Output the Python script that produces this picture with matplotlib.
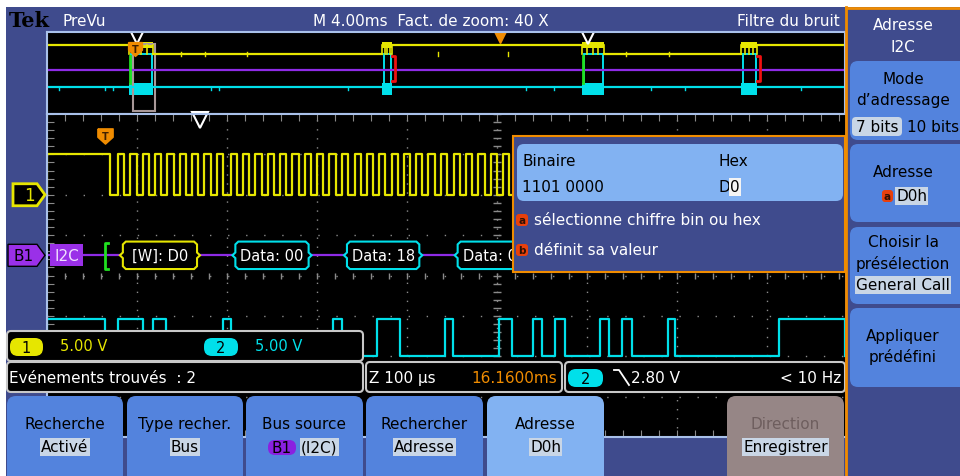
import numpy as np
import matplotlib.pyplot as plt
from matplotlib.patches import Rectangle, FancyBboxPatch, Polygon
from matplotlib.transforms import Bbox, TransformedBbox

OUT_FILE = 'out.png'
FIG_W, FIG_H = 960, 477

# screen colours
FRAME_BLUE = '#3f4b8d'
BUTTON_BLUE = '#5383dd'
BUTTON_LIGHT = '#82b2f2'
BUTTON_GREY = '#968686'
HILITE = '#c9d6e6'
BORDER_BLUE = '#a9c1ea'
GRID = '#8a8a8a'
CH1 = '#e6e600'
CH2 = '#00e0ea'
BUS = '#8e2be6'
ORANGE = '#f08c00'
READOUT_EDGE = '#c8c8c8'

# PreVu overview, whole record (ms)
PREVU_SPAN_MS = 40.0
BURST_START_MS = [4.1, 16.8, 26.8, 34.8]
BURST_END_MS = [5.3, 17.3, 27.9, 35.6]
BURST_MARK = ['start', 'stop', 'start', 'stop']
CH1_IDLE_LEVEL = [1, 0, 1, 0, 1]
CH1_GLITCH_MS = [6.7, 7.9, 10.0, 19.6, 23.1, 29.0, 31.2]
CH2_GLITCH_MS = [0.6, 2.9, 3.3, 8.2, 8.6, 15.1, 24.0, 25.4, 30.3, 32.0, 37.8]
ZOOM_BOX_MS = (4.3, 5.4)
PREVU_MARKS_MS = [4.5, 27.1]
EXPANSION_MS = 22.7
PREVU_TRIGGER_MS = 4.4

# zoomed window (us from left edge)
ZOOM_SPAN_US = 886.7
VOLTS_PER_DIV = 5.0
CH1_POS_DIV = 2.0
CH2_POS_DIV = -2.0
BUS_POS_DIV = 0.5
CH1_HIGH_V = 5.0
CH2_HIGH_V = 4.6
SCL_IDLE_END_US = 70
SCL_FRAME_START_US = [79, 204, 328, 452, 577, 701, 826]
SCL_PERIOD_US = 13.7
SCL_HIGH_US = 7.0
SDA_HIGH_START_US = [0, 79, 118, 196, 318, 367, 442, 502, 540, 564, 614, 639, 690, 813]
SDA_HIGH_END_US = [64, 107, 132, 205, 328, 392, 451, 517, 550, 576, 624, 650, 698, 887]
START_MARK_US = 64
TRIGGER_US = 65
ZOOM_MARK_US = 170
PACKET_LABELS = ['[W]: D0', 'Data: 00', 'Data: 18', 'Data: 00']
PACKET_START_US = [81, 206, 330, 453]
PACKET_END_US = [170, 294, 417, 541]

# menus
BOTTOM_TITLES = ['Recherche', 'Type recher.', 'Bus source', 'Rechercher', 'Adresse', 'Direction']
BOTTOM_VALUES = ['Activé', 'Bus', '(I2C)', 'Adresse', 'D0h', 'Enregistrer']
SIDE_TITLE = ['Adresse', 'I2C']

# pixel boxes
MAIN_BOX = (47, 115, 845, 438)
PREVU_BOX = (47, 33, 845, 115)
DIALOG_BOX = (513, 137, 845, 273)

# trigger flag, pointing down
FLAG = [(-1, 1), (1, 1), (1, -0.1), (0, -1), (-1, -0.1), (-1, 1)]


def px_axes(fig, box, zorder):
    x0, y0, x1, y1 = box
    return fig.add_axes([x0 / FIG_W, 1 - y1 / FIG_H, (x1 - x0) / FIG_W, (y1 - y0) / FIG_H], zorder=zorder)


def pixel_canvas(fig, zorder):
    ax = fig.add_axes([0, 0, 1, 1], zorder=zorder)
    ax.set_xlim(0, FIG_W)
    ax.set_ylim(FIG_H, 0)
    ax.axis('off')
    ax.patch.set_alpha(0)
    return ax


def txt(ax, x, y, s, color='white', size=10.5, ha='left', bg=None, **kw):
    bbox = dict(boxstyle='square,pad=0.08', fc=bg, ec='none') if bg else None
    ax.text(x, y, s, color=color, fontsize=size, ha=ha, va='center', bbox=bbox, **kw)


def rbox(ax, x0, y0, x1, y1, fc, ec='none', r=6, lw=1.0, z=1):
    ax.add_patch(FancyBboxPatch((x0, y0), x1 - x0, y1 - y0,
                                boxstyle=f'round,pad=0,rounding_size={r}',
                                fc=fc, ec=ec, lw=lw, zorder=z))


def div_to_px(d):
    x0, y0, x1, y1 = MAIN_BOX
    return y0 + (4 - d) * (y1 - y0) / 8


def step_trace(starts, ends, t_end, low, high):
    xs, ys = [0], [low]
    for s, e in zip(starts, ends):
        xs += [s, s, e, e]
        ys += [low, high, high, low]
    xs.append(t_end)
    ys.append(low)
    return np.array(xs), np.array(ys)


def trigger_flag(ax, x, y, ms):
    ax.plot([x], [y], marker=FLAG, ms=ms, color=ORANGE, mec=ORANGE, clip_on=False)
    ax.text(x, y, 'T', color='#402000', fontsize=7, ha='center', va='center', weight='bold')


def draw_prevu(ax):
    ax.set_facecolor('black')
    ax.set_xlim(0, PREVU_SPAN_MS)
    ax.set_ylim(PREVU_BOX[3], PREVU_BOX[1])
    ax.set_xticks([])
    ax.set_yticks([])
    for sp in ax.spines.values():
        sp.set_color(BORDER_BLUE)
        sp.set_linewidth(1.5)
    y_hi, y_lo, y_bus, y_ch2 = 46, 55, 71, 88

    # channel 1 idle levels between bursts
    for i, level in enumerate(CH1_IDLE_LEVEL):
        a = 0 if i == 0 else BURST_END_MS[i - 1]
        b = BURST_START_MS[i] if i < len(BURST_START_MS) else PREVU_SPAN_MS
        ax.plot([a, b], [y_hi if level else y_lo] * 2, color=CH1, lw=1.6)
    for g in CH1_GLITCH_MS:
        ax.plot([g, g], [y_lo - 2, y_lo + 2], color=CH1, lw=1)

    ax.plot([0, PREVU_SPAN_MS], [y_bus, y_bus], color=BUS, lw=1.6)
    ax.plot([0, PREVU_SPAN_MS], [y_ch2, y_ch2], color=CH2, lw=1.6)
    for g in CH2_GLITCH_MS:
        ax.plot([g, g], [y_ch2, y_ch2 + 3], color=CH2, lw=1)

    for s, e, kind in zip(BURST_START_MS, BURST_END_MS, BURST_MARK):
        ax.fill_between([s, e], y_hi - 3, y_hi + 3, color=CH1, lw=0)
        for x in np.linspace(s, e, 5):
            ax.plot([x, x], [y_hi, y_lo], color=CH1, lw=1.2)
        ax.add_patch(Rectangle((s + 0.1, y_lo), e - s - 0.15, y_ch2 - y_lo, fc='none', ec=CH2, lw=1.4))
        ax.fill_between([s, e], y_ch2 - 4, y_ch2 + 8, color=CH2, lw=0)
        if kind == 'start':
            ax.plot([s + 0.05, s + 0.05], [y_lo + 2, y_ch2 - 4], color='#20e020', lw=2)
        else:
            ax.plot([e, e + 0.15, e + 0.15, e], [y_lo + 2, y_lo + 2, y_ch2 - 6, y_ch2 - 6], color='#f01010', lw=2)

    z0, z1 = ZOOM_BOX_MS
    ax.add_patch(Rectangle((z0, 45), z1 - z0, 67, fc='none', ec='#a89898', lw=1.5))
    ax.plot(PREVU_MARKS_MS, [37, 37], ls='none', marker='v', ms=11, mfc='none', mec='white', mew=1.5)
    ax.plot([EXPANSION_MS], [36.5], marker='v', ms=10, color=ORANGE, mec=ORANGE)
    trigger_flag(ax, PREVU_TRIGGER_MS, 50, 10)


def draw_zoom(ax):
    ax.set_facecolor('black')
    ax.set_xlim(0, ZOOM_SPAN_US)
    ax.set_ylim(-4, 4)
    ax.set_xticks(np.arange(0, ZOOM_SPAN_US, 20))
    ax.set_yticks(np.arange(-4, 4.01, 0.2))
    ax.tick_params(direction='in', length=5, color=GRID, top=True, right=False,
                   labelbottom=False, labelleft=False)
    for name, sp in ax.spines.items():
        sp.set_color(BORDER_BLUE)
        sp.set_linewidth(1.5)
    ax.spines['right'].set_visible(False)

    # graticule
    for x in np.arange(100, ZOOM_SPAN_US, 100):
        ax.axvline(x, color=GRID, lw=1, ls=(0, (1, 5.5)))
    for y in range(-3, 4):
        ax.axhline(y, color=GRID, lw=1, ls=(0, (1, 12)))
    ticks_x = np.arange(0, ZOOM_SPAN_US, 20)
    ticks_y = np.arange(-4, 4.01, 0.2)
    ax.plot(ticks_x, np.zeros_like(ticks_x), ls='none', marker='|', ms=4, color=GRID)
    ax.plot(np.full_like(ticks_y, 500), ticks_y, ls='none', marker='_', ms=6, color=GRID)

    # channel 1: clock
    starts = [0]
    ends = [SCL_IDLE_END_US]
    for fs in SCL_FRAME_START_US:
        for k in range(9):
            starts.append(fs + k * SCL_PERIOD_US)
            ends.append(fs + k * SCL_PERIOD_US + SCL_HIGH_US)
    t, v = step_trace(starts, ends, ZOOM_SPAN_US, 0, CH1_HIGH_V)
    ax.plot(t, CH1_POS_DIV + v / VOLTS_PER_DIV, color=CH1, lw=1.6)

    # channel 2: data
    t, v = step_trace(SDA_HIGH_START_US, SDA_HIGH_END_US, ZOOM_SPAN_US, 0, CH2_HIGH_V)
    ax.plot(t, CH2_POS_DIV + v / VOLTS_PER_DIV, color=CH2, lw=1.6)

    # bus decode; packet labels are cut where the edit dialog starts
    dialog_us = (DIALOG_BOX[0] - MAIN_BOX[0]) * ZOOM_SPAN_US / (MAIN_BOX[2] - MAIN_BOX[0])
    visible = TransformedBbox(Bbox([[0, -4], [dialog_us, 4]]), ax.transData)
    ax.plot([0, ZOOM_SPAN_US], [BUS_POS_DIV] * 2, color=BUS, lw=1.6)
    ax.plot([START_MARK_US + 4, START_MARK_US, START_MARK_US, START_MARK_US + 4],
            [BUS_POS_DIV + 0.3, BUS_POS_DIV + 0.3, BUS_POS_DIV - 0.33, BUS_POS_DIV - 0.33],
            color='#20e020', lw=2)
    h = 0.34
    n = 3.3  # notch width, us
    for label, s, e in zip(PACKET_LABELS, PACKET_START_US, PACKET_END_US):
        edge = CH1 if label.startswith('[') else CH2
        c = BUS_POS_DIV
        pts = [(s + 2 * n, c + h), (e - 2 * n, c + h), (e - n, c + h - 0.07), (e - n, c + 0.07), (e, c),
               (e - n, c - 0.07), (e - n, c - h + 0.07), (e - 2 * n, c - h), (s + 2 * n, c - h),
               (s + n, c - h + 0.07), (s + n, c - 0.07), (s, c), (s + n, c + 0.07), (s + n, c + h - 0.07)]
        ax.add_patch(Polygon(pts, closed=True, fc='black', ec=edge, lw=1.5, zorder=3))
        t = ax.text((s + e) / 2, c, label, color='white', fontsize=10.5, ha='center', va='center', zorder=4)
        t.set_clip_box(visible)
        t.set_clip_on(True)

    ax.plot([ZOOM_MARK_US], [3.85], marker='v', ms=11, mfc='none', mec='white', mew=1.5, clip_on=False)
    trigger_flag(ax, TRIGGER_US, 3.45, 11)


def draw_readouts(ov):
    rbox(ov, 7, 332, 363, 362, 'black', READOUT_EDGE, r=4, lw=1.5)
    rbox(ov, 7, 363, 363, 393, 'black', READOUT_EDGE, r=4, lw=1.5)
    rbox(ov, 366, 363, 562, 393, 'black', READOUT_EDGE, r=4, lw=1.5)
    rbox(ov, 565, 363, 845, 393, 'black', READOUT_EDGE, r=4, lw=1.5)
    rbox(ov, 10, 339, 43, 357, CH1, r=8, z=2)
    txt(ov, 26.5, 348.5, '1', color='black', ha='center')
    txt(ov, 60, 347, '5.00 V', color=CH1)
    rbox(ov, 204, 339, 238, 357, CH2, r=8, z=2)
    txt(ov, 221, 348.5, '2', color='black', ha='center')
    txt(ov, 255, 347, '5.00 V', color=CH2)
    txt(ov, 9, 379, 'Evénements trouvés  : 2', size=11)
    txt(ov, 369, 379, 'Z 100 µs', size=11)
    txt(ov, 557, 379, '16.1600ms', color=ORANGE, ha='right', size=11)
    rbox(ov, 568, 370, 603, 388, CH2, r=8, z=2)
    txt(ov, 585.5, 379.5, '2', color='black', ha='center')
    ov.plot([614, 619, 629], [371, 371, 386], color='white', lw=1.3)
    txt(ov, 631, 379, '2.80 V', size=11)
    txt(ov, 841, 379, '< 10 Hz', ha='right', size=11)


def draw_bottom_menu(ov):
    spans = [(7, 123), (127, 243), (246, 363), (366, 483), (487, 604), (727, 844)]
    for i, ((x0, x1), title, value) in enumerate(zip(spans, BOTTOM_TITLES, BOTTOM_VALUES)):
        fc = BUTTON_BLUE
        tcol = 'black'
        if i == 4:
            fc = BUTTON_LIGHT
        if i == 5:
            fc = BUTTON_GREY
            tcol = '#6e5e5e'
        rbox(ov, x0, 397, x1, 495, fc, r=9)
        xm = (x0 + x1) / 2
        txt(ov, xm, 425, title, color=tcol, ha='center', size=11)
        if i == 2:
            rbox(ov, 268, 441, 296, 456, '#8a20e0', r=7, z=2)
            txt(ov, 282, 448.5, 'B1', color='black', ha='center', size=11)
            txt(ov, 301, 448, value, color='black', bg=HILITE, size=11)
        else:
            txt(ov, xm, 448, value, color='black', ha='center', bg=HILITE, size=11)


def draw_dialog(ov):
    x0, y0, x1, y1 = DIALOG_BOX
    ov.add_patch(Rectangle((x0, y0), x1 - x0, y1 - y0, fc=FRAME_BLUE, ec=ORANGE, lw=1.5))
    rbox(ov, 517, 145, 843, 202, BUTTON_LIGHT, r=7)
    txt(ov, 522, 162, 'Binaire', color='black', size=11)
    txt(ov, 718, 162, 'Hex', color='black', size=11)
    txt(ov, 522, 188, '1101 0000', color='black', size=11)
    txt(ov, 718, 188, 'D', color='black', size=11)
    txt(ov, 730, 188, '0', color='black', bg='#f4f4f4', size=11)
    for y, key, line in [(221, 'a', 'sélectionne chiffre bin ou hex'), (251, 'b', 'définit sa valeur')]:
        rbox(ov, 516, y - 6, 528, y + 6, '#e8400c', r=3, z=2)
        txt(ov, 522, y, key, color='#301000', size=7.5, ha='center', weight='bold')
        txt(ov, 534, y, line, size=11)


def draw_side_menu(ov):
    ov.add_patch(Rectangle((846, 8), 120, 470, fc=FRAME_BLUE, ec='none'))
    ov.plot([846, 846], [FIG_H, 8], color=ORANGE, lw=2)
    ov.plot([846, FIG_W], [8.5, 8.5], color=ORANGE, lw=2)
    txt(ov, 903, 25, SIDE_TITLE[0], ha='center', size=11)
    txt(ov, 903, 47, SIDE_TITLE[1], ha='center', size=11)

    rbox(ov, 850, 62, 975, 141, BUTTON_BLUE, r=8)
    txt(ov, 903, 80, 'Mode', color='black', ha='center', size=11)
    txt(ov, 903, 101, 'd’adressage', color='black', ha='center', size=11)
    rbox(ov, 852, 118, 902, 137, HILITE, r=4, z=2)
    txt(ov, 877, 127, '7 bits', color='black', ha='center', size=11)
    txt(ov, 907, 127, '10 bits', color='black', size=11)

    rbox(ov, 850, 145, 975, 223, BUTTON_BLUE, r=8)
    txt(ov, 903, 173, 'Adresse', color='black', ha='center', size=11)
    rbox(ov, 882, 191, 893, 203, '#e8400c', r=3, z=2)
    txt(ov, 887.5, 197, 'a', color='#301000', size=7.5, ha='center', weight='bold')
    txt(ov, 896, 197, 'D0h', color='black', bg=HILITE, size=11)

    rbox(ov, 850, 228, 975, 305, BUTTON_BLUE, r=8)
    txt(ov, 903, 243, 'Choisir la', color='black', ha='center', size=11)
    txt(ov, 903, 264, 'présélection', color='black', ha='center', size=11)
    txt(ov, 903, 286, 'General Call', color='black', ha='center', bg=HILITE, size=11)

    rbox(ov, 850, 309, 975, 388, BUTTON_BLUE, r=8)
    txt(ov, 903, 337, 'Appliquer', color='black', ha='center', size=11)
    txt(ov, 903, 357, 'prédéfini', color='black', ha='center', size=11)


def draw_left_markers(ov):
    y1 = div_to_px(CH1_POS_DIV)
    ov.add_patch(Polygon([(13, y1 - 11), (37, y1 - 11), (45, y1), (37, y1 + 11), (13, y1 + 11)],
                         closed=True, fc='black', ec=CH1, lw=2, zorder=3))
    txt(ov, 24, y1, '1', color=CH1, size=12)
    yb = div_to_px(BUS_POS_DIV)
    ov.add_patch(Polygon([(8, yb - 11), (37, yb - 11), (45, yb), (37, yb + 11), (8, yb + 11)],
                         closed=True, fc='#9a30e8', ec='black', lw=1, zorder=3))
    txt(ov, 24, yb, 'B1', color='black', ha='center', size=11)
    ov.add_patch(Rectangle((50, yb - 11), 33, 22, fc='#9a30e8', ec='none', zorder=3))
    txt(ov, 66.5, yb, 'I2C', color='#f0e0ff', ha='center', size=11, zorder=4)


def main():
    plt.rcParams['font.family'] = ['DejaVu Sans']
    fig = plt.figure(figsize=(FIG_W / 100, FIG_H / 100), dpi=100)
    fig.patch.set_facecolor('white')

    bg = pixel_canvas(fig, 0)
    bg.add_patch(Rectangle((6, 8), FIG_W - 6, FIG_H - 8, fc=FRAME_BLUE, ec='none'))
    txt(bg, 9, 21, 'Tek', color='black', size=15, family='DejaVu Serif', weight='bold')
    txt(bg, 62, 21, 'PreVu', size=11)
    txt(bg, 313, 21, 'M 4.00ms  Fact. de zoom: 40 X', size=11)
    txt(bg, 840, 21, 'Filtre du bruit', ha='right', size=11)

    draw_prevu(px_axes(fig, PREVU_BOX, 1))
    draw_zoom(px_axes(fig, MAIN_BOX, 1))

    ov = pixel_canvas(fig, 5)
    draw_left_markers(ov)
    draw_readouts(ov)
    draw_bottom_menu(ov)
    draw_dialog(ov)
    draw_side_menu(ov)

    fig.savefig(OUT_FILE, dpi=100, facecolor=fig.get_facecolor())


if __name__ == '__main__':
    main()
